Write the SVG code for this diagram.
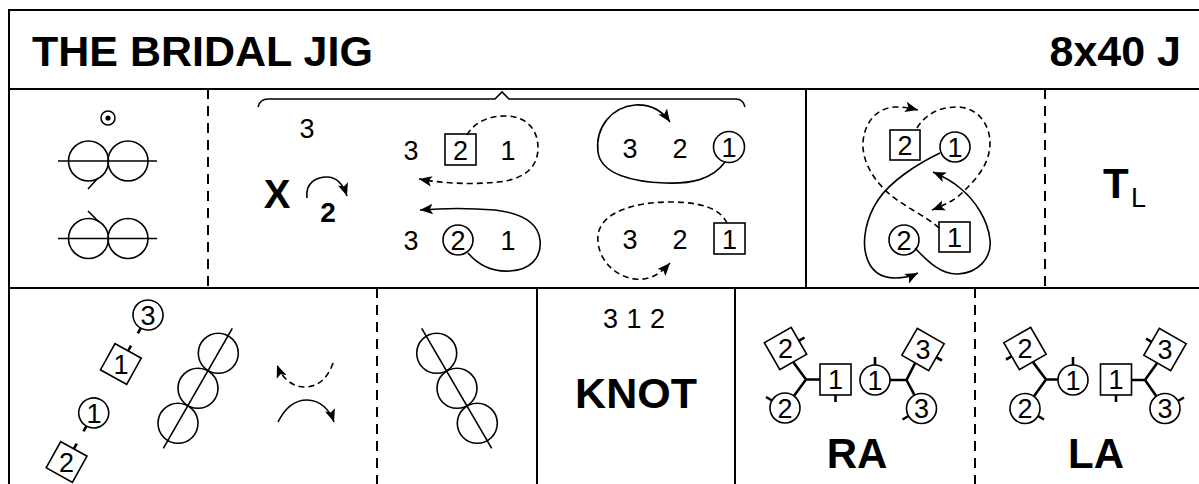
<svg xmlns="http://www.w3.org/2000/svg" width="1199" height="484" viewBox="0 0 1199 484">
<defs>
<style>
.fr{fill:none;stroke:#000;stroke-width:2}
.dl{stroke-dasharray:10 7}
.s{fill:none;stroke:#000;stroke-width:1.6}
.w{fill:#fff;stroke:#000;stroke-width:1.6}
.k{fill:none;stroke:#000;stroke-width:2.6}
.da{stroke-dasharray:6 4}
.t{font-family:"Liberation Sans",Arial,Helvetica,sans-serif;fill:#000}
.n{font-size:27px;text-anchor:middle}
.b{font-weight:bold}
.m{text-anchor:middle}
</style>
<marker id="ah" markerUnits="userSpaceOnUse" markerWidth="14" markerHeight="12" refX="11" refY="5" orient="auto" viewBox="0 0 12 10">
<path d="M0,0.5 L11,5 L0,9.5 L2.5,5 Z" fill="#000"/>
</marker>
</defs>
<rect width="1199" height="484" fill="#fff"/>

<g id="frame">
<path class="fr" d="M9,484 V10 H1199 M9,89 H1199 M9,288 H1199 M806,89 V288 M537,288 V484 M735,288 V484"/>
<path class="fr dl" d="M208,89 V288 M1045,89 V288 M377,288 V484 M975,288 V484"/>
</g>

<g id="title">
<text class="t b" x="32" y="66" font-size="43">THE BRIDAL JIG</text>
<text class="t b" x="1181" y="66" font-size="43" text-anchor="end">8x40 J</text>
</g>

<g id="cell-honour">
<circle class="s" cx="108" cy="118" r="7"/>
<circle cx="108" cy="118" r="2.6" fill="#000"/>
<circle class="s" cx="88.5" cy="161" r="20"/>
<circle class="s" cx="128" cy="161" r="20"/>
<path class="s" d="M58,161 H157 M98,178 L88,189"/>
<circle class="s" cx="88.5" cy="238.5" r="20"/>
<circle class="s" cx="128" cy="238.5" r="20"/>
<path class="s" d="M58,238.5 H157 M99,222 L88,211"/>
</g>

<g id="cell-cross">
<path class="s" d="M258,107 Q260,99 268,99 L495,99 L502,92 L509,99 L736,99 Q743,99 745,107"/>
<text class="t n" x="307" y="138">3</text>
<text class="t b m" x="277" y="208" font-size="40">X</text>
<text class="t b m" x="328" y="222" font-size="28">2</text>
<text class="t n" x="411" y="160">3</text>
<rect class="s" x="445" y="134" width="31" height="31"/>
<text class="t n" x="460.5" y="159.5">2</text>
<text class="t n" x="508" y="160">1</text>
<text class="t n" x="411" y="250">3</text>
<circle class="s" cx="458" cy="240" r="15"/>
<text class="t n" x="458" y="249.5">2</text>
<text class="t n" x="508" y="250">1</text>
<text class="t n" x="630" y="157.5">3</text>
<text class="t n" x="680" y="157.5">2</text>
<circle class="s" cx="729" cy="147" r="15.5"/>
<text class="t n" x="729" y="157">1</text>
<text class="t n" x="630" y="249">3</text>
<text class="t n" x="680" y="249">2</text>
<rect class="s" x="714" y="223" width="31" height="31"/>
<text class="t n" x="729.5" y="248.5">1</text>
</g>

<g id="cell-reel">
<rect class="s" x="890" y="130" width="30" height="30"/>
<text class="t n" x="905" y="155">2</text>
<circle class="s" cx="955" cy="147" r="15"/>
<text class="t n" x="955" y="156.5">1</text>
<circle class="s" cx="904" cy="240" r="15"/>
<text class="t n" x="904" y="249.5">2</text>
<rect class="s" x="939" y="222" width="31" height="30"/>
<text class="t n" x="954.5" y="246.5">1</text>
</g>

<g id="cell-turn">
<text class="t b" x="1103" y="198" font-size="42">T</text>
<text class="t" x="1131" y="207" font-size="27">L</text>
</g>

<g id="cell-diagonal">
<g transform="translate(148,315) rotate(29)">
<circle class="s" cx="0" cy="0" r="15"/>
<line class="k" x1="0" y1="15" x2="0" y2="21"/>
<rect class="s" x="-15" y="41" width="30" height="30"/>
<line class="k" x1="0" y1="41" x2="0" y2="35"/>
<circle class="s" cx="0" cy="112" r="15"/>
<line class="k" x1="0" y1="127" x2="0" y2="133"/>
<rect class="s" x="-15" y="153" width="30" height="30"/>
<line class="k" x1="0" y1="153" x2="0" y2="147"/>
</g>
<text class="t n" x="148" y="324.5">3</text>
<text class="t n" x="121" y="373.5">1</text>
<text class="t n" x="94" y="422.5">1</text>
<text class="t n" x="66.5" y="471.5">2</text>
<circle class="s" cx="218.3" cy="353.3" r="20"/>
<circle class="s" cx="198" cy="388.3" r="20"/>
<circle class="s" cx="178" cy="423.3" r="20"/>
<line class="s" x1="232.3" y1="328.3" x2="163.3" y2="448.3"/>
</g>

<g id="cell-set">
<circle class="s" cx="436.7" cy="353.3" r="20"/>
<circle class="s" cx="457" cy="388.3" r="20"/>
<circle class="s" cx="477.3" cy="423.3" r="20"/>
<line class="s" x1="421.7" y1="328.3" x2="491.7" y2="448.3"/>
</g>

<g id="cell-knot">
<text class="t m" x="634" y="328" font-size="27" word-spacing="1">3 1 2</text>
<text class="t b m" x="636" y="408" font-size="43">KNOT</text>
</g>

<g id="cell-ra">
<path class="k" d="M806,379.5 L793.2,362 M806,379.5 L793.9,396 M806,379.5 H820 M890,380 H906.5 L915.2,362.9 M906.5,380 L914.5,395.2"/>
<rect class="w" x="-15.5" y="-15.5" width="31" height="31" transform="translate(785.5,348.5) rotate(-30)"/>
<line class="k" x1="798.9" y1="340.8" x2="804.5" y2="337.5"/>
<text class="t n" x="785.5" y="358">2</text>
<circle class="w" cx="785" cy="408" r="15"/>
<line class="k" x1="772" y1="400.5" x2="766" y2="397"/>
<text class="t n" x="785" y="417.5">2</text>
<rect class="w" x="820" y="364" width="31" height="31"/>
<line class="k" x1="835.5" y1="395" x2="835.5" y2="402"/>
<text class="t n" x="835.5" y="389">1</text>
<circle class="w" cx="875" cy="380" r="15"/>
<line class="k" x1="875" y1="365" x2="875" y2="357"/>
<text class="t n" x="875" y="389.5">1</text>
<rect class="w" x="-15.5" y="-15.5" width="31" height="31" transform="translate(923,349.5) rotate(30)"/>
<line class="k" x1="936.4" y1="357.3" x2="942" y2="360.5"/>
<text class="t n" x="923" y="359">3</text>
<circle class="w" cx="921.5" cy="408.5" r="15"/>
<line class="k" x1="908.5" y1="416" x2="902.5" y2="419.5"/>
<text class="t n" x="921.5" y="418">3</text>
<text class="t b m" x="857" y="468" font-size="42">RA</text>
</g>

<g id="cell-la">
<path class="k" d="M1046,379.5 L1032.8,361.9 M1046,379.5 L1033.8,396.4 M1046,379.5 H1058 M1131.5,380 H1145 L1157.2,362.9 M1145,380 L1156.4,396.2"/>
<rect class="w" x="-15.5" y="-15.5" width="31" height="31" transform="translate(1025,348.5) rotate(-30)"/>
<line class="k" x1="1011.6" y1="356.3" x2="1006" y2="359.5"/>
<text class="t n" x="1025" y="358">2</text>
<circle class="w" cx="1025" cy="408.5" r="15"/>
<line class="k" x1="1038" y1="416" x2="1044" y2="419.5"/>
<text class="t n" x="1025" y="418">2</text>
<circle class="w" cx="1073" cy="380" r="15"/>
<line class="k" x1="1073" y1="365" x2="1073" y2="357"/>
<text class="t n" x="1073" y="389.5">1</text>
<rect class="w" x="1100.5" y="364" width="31" height="31"/>
<line class="k" x1="1116" y1="395" x2="1116" y2="402"/>
<text class="t n" x="1116" y="389">1</text>
<rect class="w" x="-15.5" y="-15.5" width="31" height="31" transform="translate(1165,349.5) rotate(30)"/>
<line class="k" x1="1151.6" y1="341.8" x2="1146" y2="338.5"/>
<text class="t n" x="1165" y="359">3</text>
<circle class="w" cx="1165" cy="408.5" r="15"/>
<line class="k" x1="1178" y1="401" x2="1184" y2="397.5"/>
<text class="t n" x="1165" y="418">3</text>
<text class="t b m" x="1096" y="468" font-size="42">LA</text>
</g>

<g id="connectors">
<path class="s" marker-end="url(#ah)" d="M307,198 C305,183 316,177 327,177 C337,177 343,184 347,196"/>
<path class="s da" marker-end="url(#ah)" d="M467,135 C475,121 490,116 505,116 C525,116 538,128 538,148 C538,170 520,180 498,182 C470,185 440,183 419,179"/>
<path class="s" marker-end="url(#ah)" d="M468,253 C480,267 494,272 510,271 C530,270 542,258 540,240 C538,222 520,213 495,210 C470,208 445,208 420,210"/>
<path class="s" marker-end="url(#ah)" d="M725,162 C712,180 690,184 665,183 C635,182 601,175 598,152 C595,127 612,107 635,105 C652,104 663,112 670,122"/>
<path class="s da" marker-end="url(#ah)" d="M727,223 C720,208 700,202 670,202 C635,202 601,212 598,235 C596,256 612,276 635,279 C651,281 662,272 670,263"/>
<path class="s da" marker-end="url(#ah)" d="M917,128 C927,112 942,107 957,107 C978,107 990,125 990,143 C990,165 975,180 963,192 C955,200 945,205 932,210"/>
<path class="s da" marker-end="url(#ah)" d="M939,228 C925,215 900,205 885,190 C870,175 862,158 863,142 C865,120 878,108 895,107 C903,107 910,108 918,110"/>
<path class="s" marker-end="url(#ah)" d="M940,153 C915,165 890,182 878,200 C866,218 862,240 866,255 C870,270 880,278 895,278 C905,278 912,276 918,273"/>
<path class="s" marker-end="url(#ah)" d="M915,248 C928,262 942,275 958,274 C978,273 992,258 990,240 C988,220 975,200 960,188 C952,181 942,176 933,172"/>
<path class="s da" marker-end="url(#ah)" d="M333,363 C328,378 318,387 305,387 C292,387 282,378 277,365"/>
<path class="s" marker-end="url(#ah)" d="M278,422 C285,408 295,400 307,400 C320,400 330,410 334,422"/>
</g>
</svg>
